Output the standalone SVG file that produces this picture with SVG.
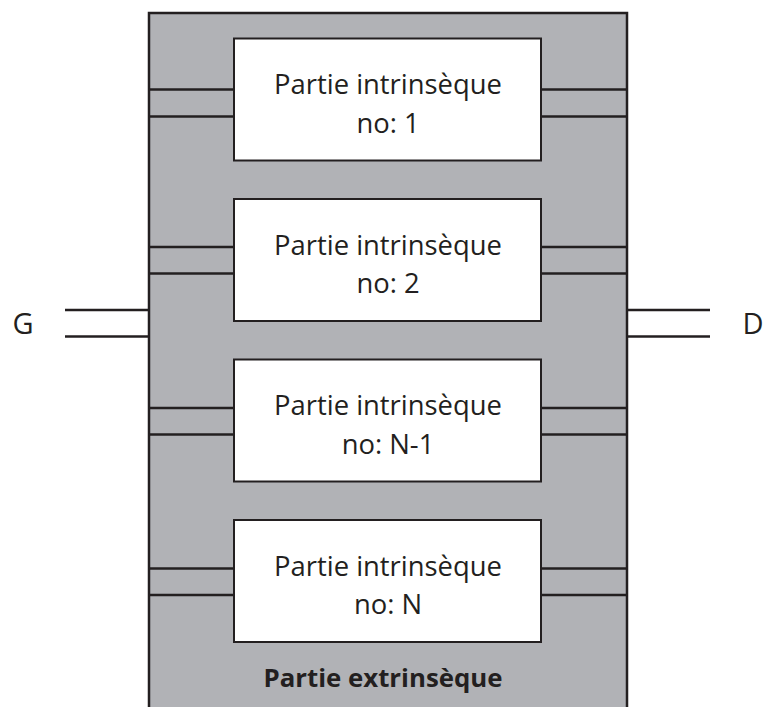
<svg xmlns="http://www.w3.org/2000/svg" width="763" height="707" viewBox="0 0 763 707">
<style>
.frame{fill:#b1b2b6;stroke:#231f20;stroke-width:2.5}
.box{fill:#ffffff;stroke:#231f20;stroke-width:2}
.ln{stroke:#231f20;stroke-width:2.5;fill:none}
.t{font-family:"Open Sans","Noto Sans",sans-serif;font-size:27.4px;fill:#231f20;text-anchor:middle}
.b{font-weight:bold;font-size:25.8px}
.s{font-size:29px}
</style>
<rect width="763" height="707" fill="#ffffff"/>
<g id="extrinsic">
<rect class="frame" x="149" y="13" width="478" height="710"/>
<text class="t b" x="383" y="687">Partie extrinsèque</text>
</g>
<g id="connectors">
<line class="ln" x1="65" y1="310" x2="149" y2="310"/>
<line class="ln" x1="65" y1="336.5" x2="149" y2="336.5"/>
<line class="ln" x1="627" y1="310" x2="710" y2="310"/>
<line class="ln" x1="627" y1="336.5" x2="710" y2="336.5"/>
<line class="ln" x1="149" y1="89.5" x2="234" y2="89.5"/>
<line class="ln" x1="149" y1="116.5" x2="234" y2="116.5"/>
<line class="ln" x1="541" y1="89.5" x2="627" y2="89.5"/>
<line class="ln" x1="541" y1="116.5" x2="627" y2="116.5"/>
<line class="ln" x1="149" y1="247" x2="234" y2="247"/>
<line class="ln" x1="149" y1="273.5" x2="234" y2="273.5"/>
<line class="ln" x1="541" y1="247" x2="627" y2="247"/>
<line class="ln" x1="541" y1="273.5" x2="627" y2="273.5"/>
<line class="ln" x1="149" y1="408" x2="234" y2="408"/>
<line class="ln" x1="149" y1="434.5" x2="234" y2="434.5"/>
<line class="ln" x1="541" y1="408" x2="627" y2="408"/>
<line class="ln" x1="541" y1="434.5" x2="627" y2="434.5"/>
<line class="ln" x1="149" y1="568.5" x2="234" y2="568.5"/>
<line class="ln" x1="149" y1="595" x2="234" y2="595"/>
<line class="ln" x1="541" y1="568.5" x2="627" y2="568.5"/>
<line class="ln" x1="541" y1="595" x2="627" y2="595"/>
</g>
<g id="G"><text class="t s" x="23" y="334">G</text></g>
<g id="D"><text class="t s" x="753" y="334">D</text></g>
<g id="box1">
<rect class="box" x="234" y="38.5" width="307" height="122"/>
<text class="t" x="388" y="94">Partie intrinsèque</text>
<text class="t" x="388" y="132.5">no: 1</text>
</g>
<g id="box2">
<rect class="box" x="234" y="199" width="307" height="122"/>
<text class="t" x="388" y="254.5">Partie intrinsèque</text>
<text class="t" x="388" y="293">no: 2</text>
</g>
<g id="box3">
<rect class="box" x="234" y="359.5" width="307" height="122"/>
<text class="t" x="388" y="415">Partie intrinsèque</text>
<text class="t" x="388" y="453.5">no: N-1</text>
</g>
<g id="box4">
<rect class="box" x="234" y="520" width="307" height="122"/>
<text class="t" x="388" y="575.5">Partie intrinsèque</text>
<text class="t" x="388" y="614">no: N</text>
</g>
</svg>
